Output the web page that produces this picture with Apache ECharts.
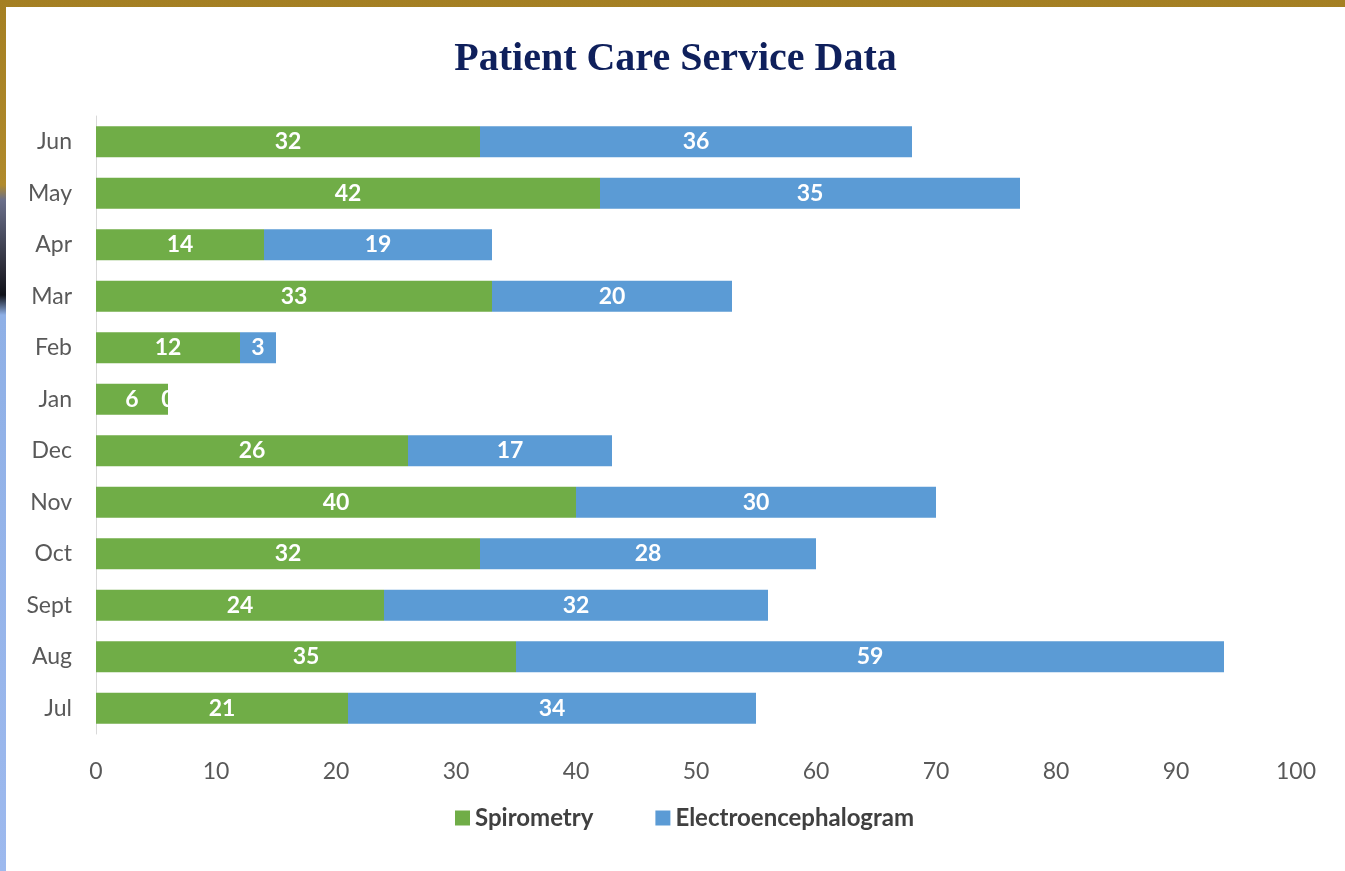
<!DOCTYPE html>
<html lang="en">
<head>
    <meta charset="UTF-8">
    <title>Patient Care Service Data</title>
    <script src="https://cdn.jsdelivr.net/npm/echarts@6/dist/echarts.min.js"></script>
    <style>
        html, body { margin: 0; padding: 0; width: 100%; height: 100%; overflow: hidden; }
        body {
            background: linear-gradient(to bottom, #a47f22 0, #b08a2c 185px, #6a6f8a 200px, #2a2b36 270px, #10121a 295px, #8fb0e6 315px, #9db9ee 100%);
        }
        #main { position: absolute; left: 6px; top: 7px; width: 1339px; height: 864px; background: #fff; }
    </style>
</head>
<body>
<!--chart container-->
<div id="main"></div>
<script>
    // months listed bottom to top, like the picture
    var months = ['Jul', 'Aug', 'Sept', 'Oct', 'Nov', 'Dec', 'Jan', 'Feb', 'Mar', 'Apr', 'May', 'Jun'];
    var spirometry = [21, 35, 24, 32, 40, 26, 6, 12, 33, 14, 42, 32];
    var eeg = [34, 59, 32, 28, 30, 17, 0, 3, 20, 19, 35, 36];
    var xTicks = [0, 10, 20, 30, 40, 50, 60, 70, 80, 90, 100];

    var labelFont = 'Lato, "Open Sans", sans-serif';
    var myChart = echarts.init(document.getElementById('main'));

    var valueLabel = {
        show: true,
        position: 'inside',
        color: '#fff',
        fontFamily: labelFont,
        fontWeight: 'bold',
        fontSize: 23
    };

    var option = {
        title: {
            text: 'Patient Care Service Data',
            left: 'center',
            top: 28,
            textStyle: {
                fontFamily: '"Liberation Serif", "Times New Roman", serif',
                fontWeight: 'bold',
                fontSize: 40,
                color: '#0f205c'
            }
        },
        legend: {
            data: ['Spirometry', 'Electroencephalogram'],
            bottom: 36,
            left: 444,
            itemWidth: 15,
            itemHeight: 15,
            itemGap: 62,
            icon: 'rect',
            textStyle: {
                fontFamily: labelFont,
                fontWeight: 'bold',
                fontSize: 24,
                color: '#404040'
            }
        },
        grid: {
            left: 90,
            right: 49,
            top: 109,
            bottom: 137
        },
        xAxis: {
            type: 'value',
            min: xTicks[0],
            max: xTicks[xTicks.length - 1],
            interval: 10,
            axisLine: { show: false },
            axisTick: { show: false },
            splitLine: { show: false },
            axisLabel: {
                margin: 26,
                color: '#595959',
                fontFamily: labelFont,
                fontSize: 23
            }
        },
        yAxis: {
            type: 'category',
            data: months,
            axisTick: { show: false },
            axisLine: { show: true, lineStyle: { color: '#d9d9d9', width: 1 } },
            axisLabel: {
                margin: 24,
                color: '#595959',
                fontFamily: labelFont,
                fontSize: 23
            }
        },
        series: [
            {
                name: 'Spirometry',
                type: 'bar',
                stack: 'total',
                barWidth: 31,
                itemStyle: { color: '#70ad47' },
                label: valueLabel,
                data: spirometry
            },
            {
                name: 'Electroencephalogram',
                type: 'bar',
                stack: 'total',
                barWidth: 31,
                itemStyle: { color: '#5b9bd5' },
                label: valueLabel,
                data: eeg
            }
        ],
        animation: false
    };

    myChart.setOption(option);
</script>
</body>
</html>
